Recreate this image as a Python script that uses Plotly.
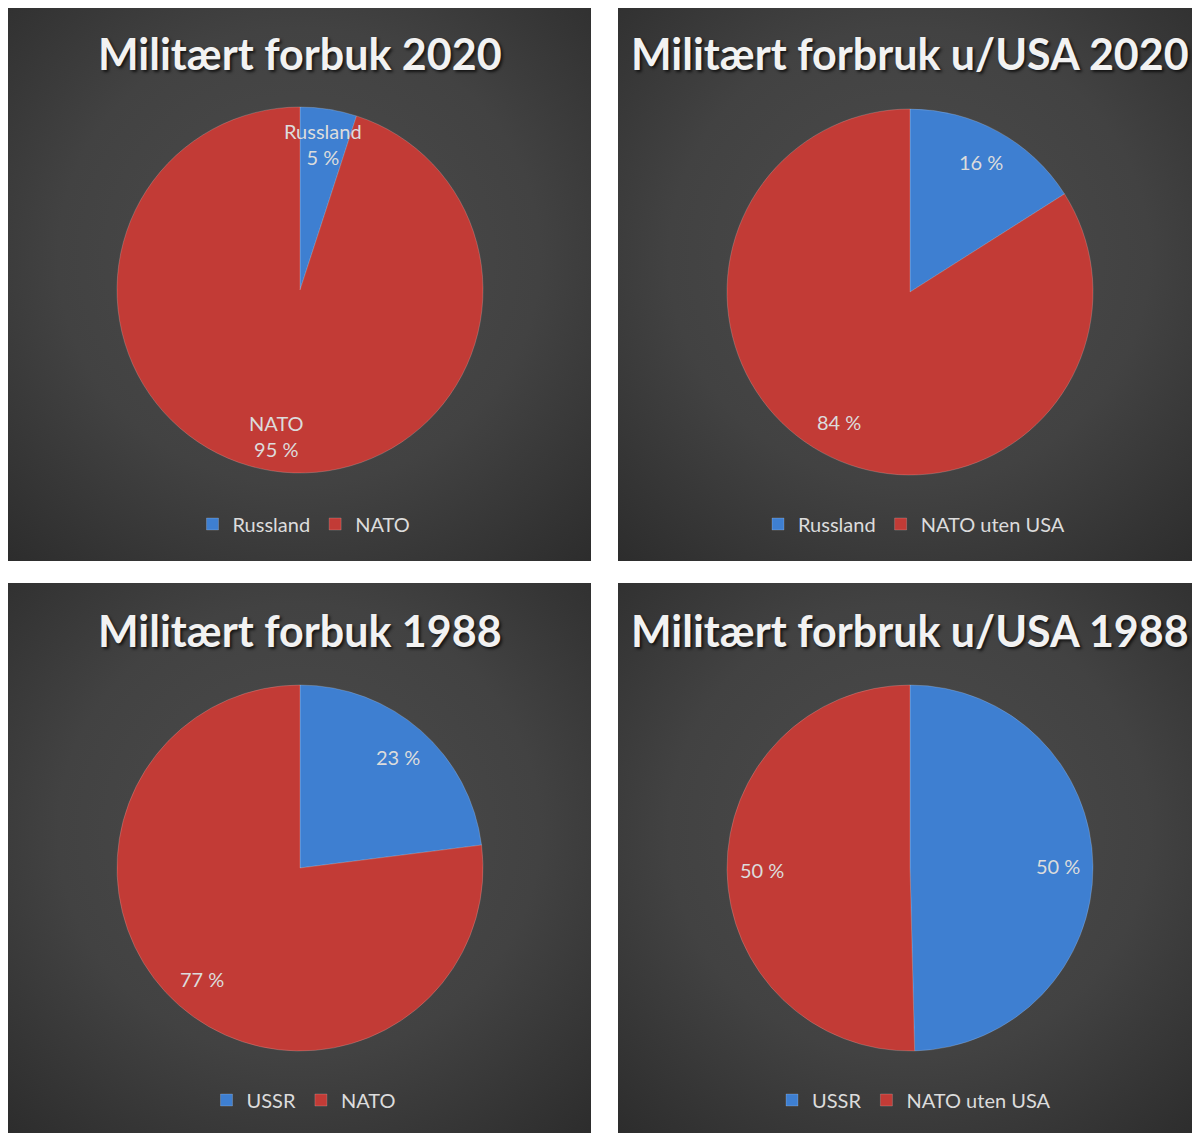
import base64, math
import plotly.graph_objects as go

# The page body adds an 8px margin, so the figure is drawn 8px smaller and
# every reference pixel position is shifted by that offset.
OFF = 8
W, H = 1200 - OFF, 1133 - OFF

# ---- data ----
titles = ["Militært forbuk 2020", "Militært forbruk u/USA 2020",
          "Militært forbuk 1988", "Militært forbruk u/USA 1988"]
labels_2020 = ["Russland", "NATO"]
values_2020 = [5, 95]
labels_2020_uusa = ["Russland", "NATO uten USA"]
values_2020_uusa = [16, 84]
labels_1988 = ["USSR", "NATO"]
values_1988 = [23, 77]
labels_1988_uusa = ["USSR", "NATO uten USA"]
values_1988_uusa = [49.6, 50.4]
show_names = [True, False, False, False]

series = [(labels_2020, values_2020), (labels_2020_uusa, values_2020_uusa),
          (labels_1988, values_1988), (labels_1988_uusa, values_1988_uusa)]

# ---- layout geometry (reference pixels) ----
panels = [(7, 7, 591, 561), (618, 7, 1200, 561),
          (7, 583, 591, 1133), (618, 583, 1200, 1133)]
pie_boxes = [(117, 107, 483, 473), (727, 109, 1093, 475),
             (117, 685, 483, 1051), (727, 685, 1093, 1051)]
title_y = [53, 53, 630, 630]
legend_y = [524, 524, 1100, 1100]
legend_x = [304, 914, 304, 914]


def fx(px):
    return (px - OFF) / W


def fy(py):
    return 1 - (py - OFF) / H


BLUE = "#3e7fd1"
RED = "#c23b36"
TXT = "#dcdcdc"
FONT = "Lato"

svg = ('<svg xmlns="http://www.w3.org/2000/svg" width="600" height="560" viewBox="0 0 600 560" '
       'preserveAspectRatio="none"><defs><radialGradient id="g" cx="50%" cy="45%" r="75%">'
       '<stop offset="0" stop-color="#4c4c4c"/><stop offset="0.55" stop-color="#424242"/>'
       '<stop offset="1" stop-color="#2c2c2c"/></radialGradient></defs>'
       '<rect width="600" height="560" fill="url(#g)"/></svg>')
bg_src = "data:image/svg+xml;base64," + base64.b64encode(svg.encode()).decode()

fig = go.Figure()
images, annotations = [], []
legends = {}

for i, ((labs, vals), box, pan) in enumerate(zip(series, pie_boxes, panels)):
    x0, y0, x1, y1 = box
    lname = "legend" if i == 0 else f"legend{i+1}"
    # zero-width suffix keeps each panel's legend entries separate
    uniq = [lab + "\u200b" * i for lab in labs]
    fig.add_trace(go.Pie(
        labels=uniq, values=vals, sort=False, direction="clockwise", rotation=0,
        marker=dict(colors=[BLUE, RED], line=dict(color="rgba(255,255,255,0.18)", width=1)),
        textinfo="none", hoverinfo="label+percent",
        domain=dict(x=[fx(x0), fx(x1)], y=[fy(y1), fy(y0)]),
        legend=lname, showlegend=True,
    ))
    # data labels placed along each slice's mid-angle
    total = sum(vals)
    cx, cy = (x0 + x1) / 2, (y0 + y1) / 2
    r = (x1 - x0) / 2
    cum = 0
    for lab, v in zip(labs, vals):
        mid = (cum + v / 2) / total * 2 * math.pi
        cum += v
        pct = f"{round(v / total * 100)} %"
        txt = f"{lab}<br>{pct}" if show_names[i] else pct
        px = cx + 0.81 * r * math.sin(mid)
        py = cy - 0.81 * r * math.cos(mid)
        annotations.append(dict(x=fx(px), y=fy(py), xref="paper", yref="paper",
                                xanchor="center", yanchor="middle",
                                text=txt, showarrow=False,
                                font=dict(family=FONT, size=20, color=TXT)))
    # panel background
    px0, py0, px1, py1 = pan
    images.append(dict(source=bg_src, xref="paper", yref="paper",
                       x=fx(px0), y=fy(py0), sizex=(px1 - px0) / W, sizey=(py1 - py0) / H,
                       xanchor="left", yanchor="top", sizing="stretch", layer="below"))
    # title
    annotations.append(dict(x=fx((px0 + px1) / 2 + 1), y=fy(title_y[i]),
                            xref="paper", yref="paper", text=titles[i], showarrow=False,
                            xanchor="center", yanchor="middle",
                            font=dict(family=FONT, size=43, color="#f2f2f2", weight="bold",
                                      shadow="2px 2px 3px rgba(0,0,0,0.7)")))
    legends[lname] = dict(orientation="h", x=fx(legend_x[i]), xanchor="center",
                          y=fy(legend_y[i]), yanchor="middle",
                          bgcolor="rgba(0,0,0,0)", font=dict(family=FONT, size=20, color=TXT),
                          itemclick=False, itemdoubleclick=False)

fig.update_layout(width=W, height=H, autosize=False,
                  margin=dict(l=0, r=0, t=0, b=0),
                  paper_bgcolor="white", plot_bgcolor="white",
                  images=images, annotations=annotations, **legends)

fig.write_html("out.html")
